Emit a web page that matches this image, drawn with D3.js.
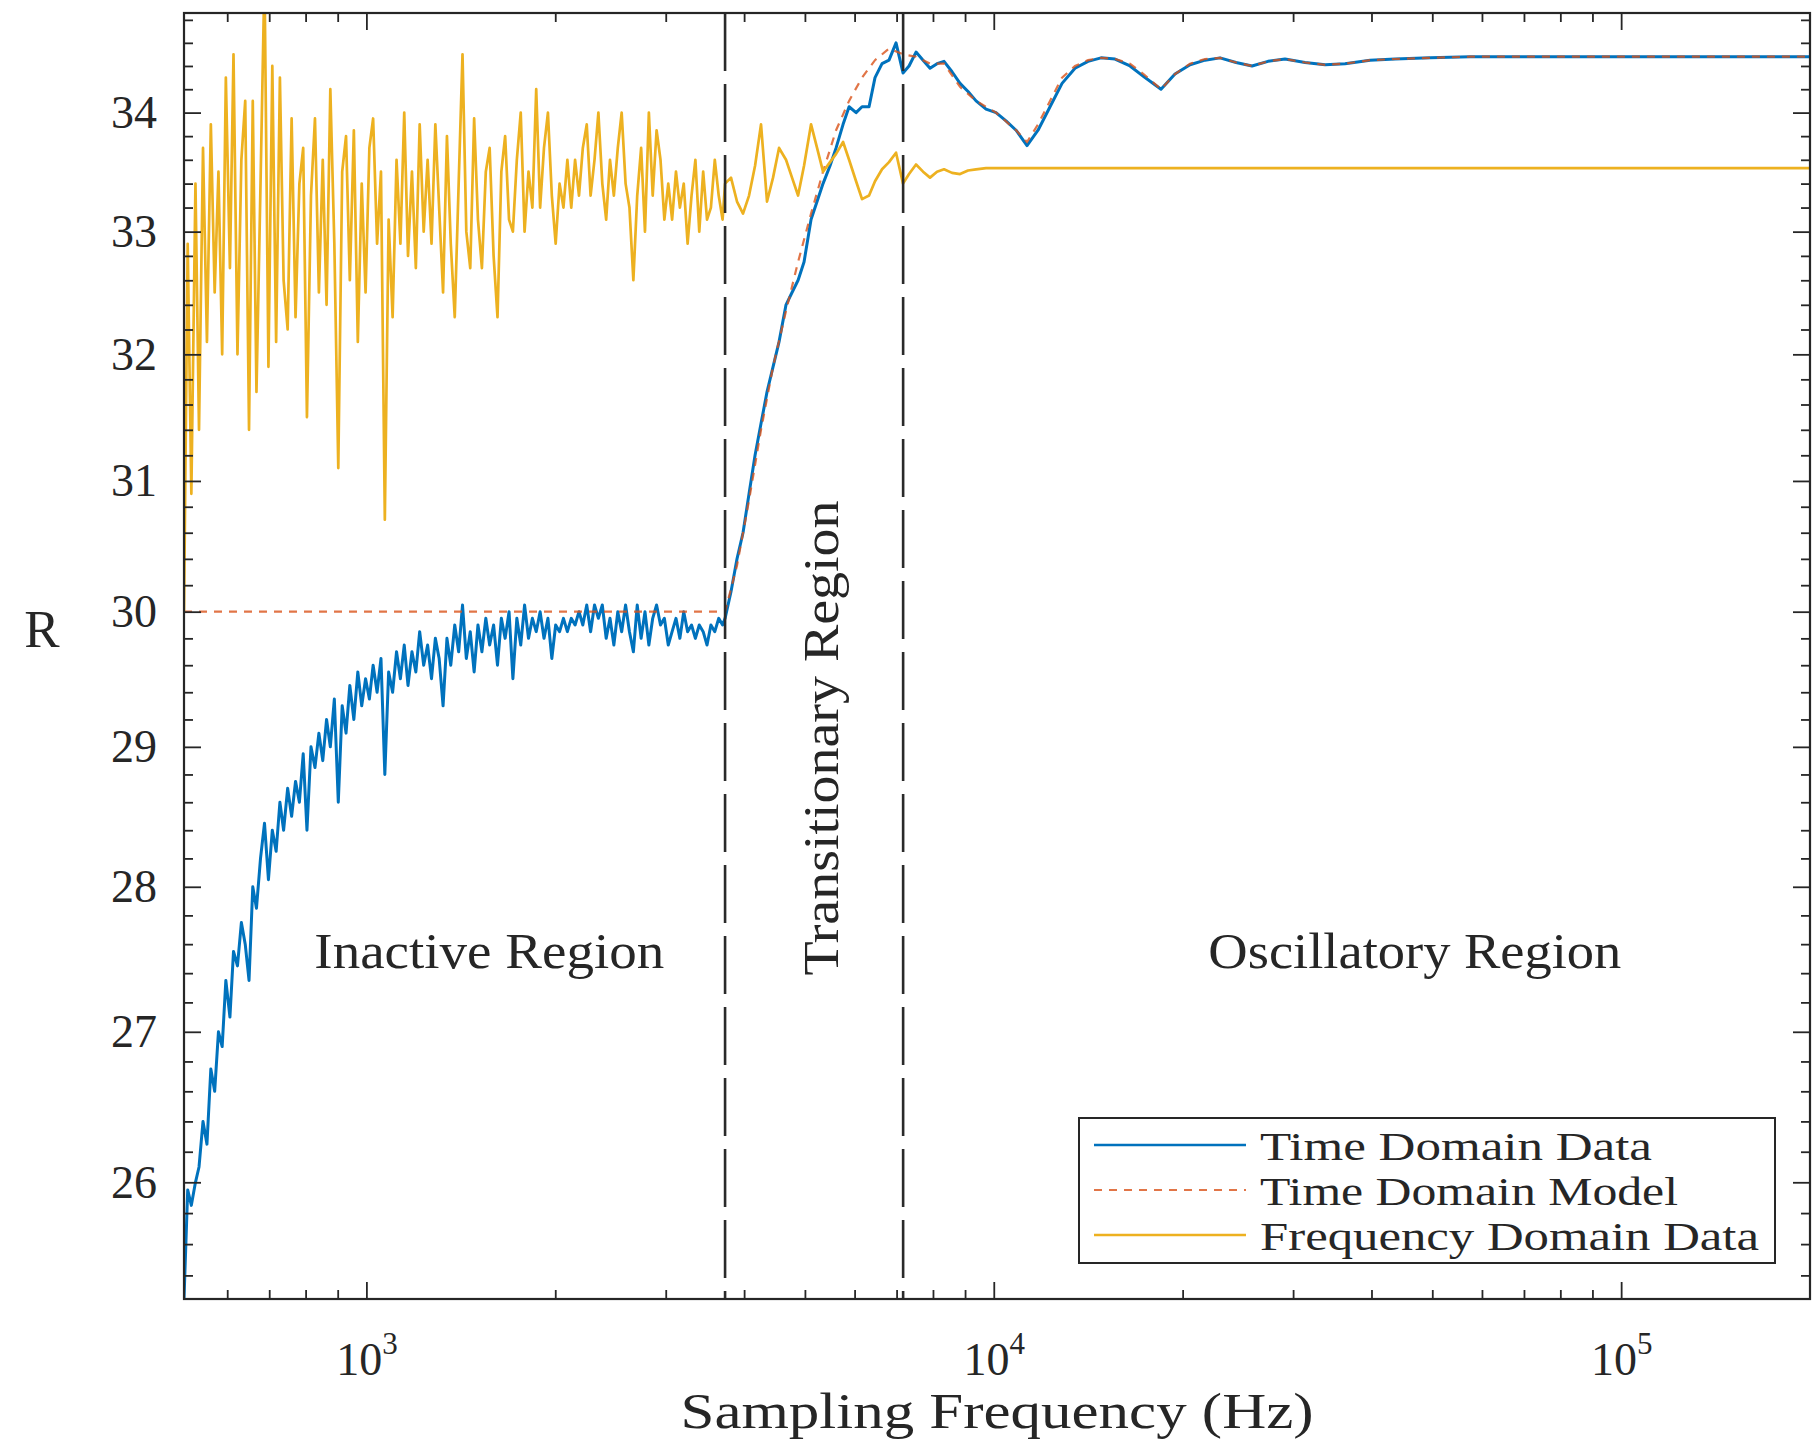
<!DOCTYPE html>
<html>
<head>
<meta charset="utf-8">
<script src="https://cdn.jsdelivr.net/npm/d3@7"></script>
<style>
  html, body { margin: 0; padding: 0; background: #fff; }
  svg text { font-family: "Liberation Serif", "Times New Roman", serif; fill: #262626; }
</style>
</head>
<body>
<svg id="chart" width="1818" height="1447"></svg>
<script>
// Sampling frequencies (Hz) below the first region boundary
const fsLow = [
  512, 519, 526, 534, 541, 549, 557, 565, 573, 581, 589, 597, 606, 614, 623, 632, 641, 650, 659, 668,
  678, 688, 698, 708, 718, 728, 738, 749, 760, 771, 782, 793, 804, 816, 828, 840, 852, 864, 876, 889,
  902, 915, 928, 941, 955, 969, 983, 997, 1011, 1025, 1040, 1055, 1070, 1085, 1101, 1117, 1133, 1149, 1165, 1182,
  1199, 1216, 1234, 1252, 1270, 1288, 1306, 1325, 1344, 1363, 1383, 1403, 1423, 1443, 1464, 1485, 1506, 1528, 1550, 1572,
  1595, 1618, 1641, 1664, 1688, 1712, 1737, 1762, 1787, 1813, 1839, 1865, 1892, 1919, 1947, 1975, 2003, 2032, 2061, 2091,
  2121, 2151, 2182, 2213, 2245, 2277, 2310, 2343, 2377, 2411, 2445, 2480, 2516, 2552, 2589, 2626, 2664, 2702, 2741, 2780,
  2820, 2860, 2901, 2943, 2985, 3028, 3071, 3115, 3160, 3205, 3251, 3298, 3345, 3393, 3442, 3491, 3541, 3592, 3644, 3696,
  3730
];

// Time-domain R over fsLow
const rTimeLow = [
  25.25, 25.95, 25.85, 26.0, 26.1, 26.4, 26.25, 26.75, 26.6, 27.0,
  26.9, 27.35, 27.1, 27.55, 27.45, 27.75, 27.6, 27.35, 28.0, 27.85,
  28.2, 28.45, 28.05, 28.4, 28.25, 28.6, 28.4, 28.7, 28.5, 28.75,
  28.6, 28.95, 28.4, 29.0, 28.85, 29.1, 28.9, 29.2, 29.0, 29.35,
  28.6, 29.3, 29.1, 29.45, 29.2, 29.55, 29.3, 29.5, 29.35, 29.6,
  29.4, 29.65, 28.8, 29.55, 29.4, 29.7, 29.5, 29.75, 29.45, 29.7,
  29.55, 29.85, 29.6, 29.75, 29.5, 29.8, 29.65, 29.3, 29.8, 29.6,
  29.9, 29.7, 30.05, 29.65, 29.85, 29.55, 29.9, 29.7, 29.95, 29.75,
  29.9, 29.6, 29.95, 29.8, 30.0, 29.5, 29.95, 29.75, 30.05, 29.8,
  29.95, 29.85, 30.0, 29.8, 29.95, 29.65, 29.9, 29.85, 29.95, 29.85,
  29.95, 29.9, 30.0, 29.9, 30.05, 29.85, 30.05, 29.95, 30.05, 29.8,
  29.95, 29.75, 30.0, 29.85, 30.05, 29.85, 29.7, 30.05, 29.8, 30.0,
  29.75, 29.95, 30.05, 29.9, 29.95, 29.75, 29.85, 29.95, 29.8, 30.0,
  29.85, 29.9, 29.8, 29.9, 29.85, 29.75, 29.9, 29.85, 29.95, 29.9,
  29.95
];

// Frequency-domain R over fsLow
const rFreqLow = [
  30.0, 32.9, 30.9, 33.4, 31.4, 33.7, 32.1, 33.9, 32.5, 33.5,
  32.0, 34.3, 32.7, 34.5, 32.0, 33.6, 34.1, 31.4, 34.1, 31.7,
  33.4, 35.2, 31.9, 34.4, 32.1, 34.3, 32.6, 32.2, 33.95, 32.3,
  33.4, 33.7, 31.5, 33.3, 33.95, 32.5, 33.6, 32.4, 34.2, 32.9,
  31.1, 33.5, 33.8, 32.6, 33.85, 32.1, 33.4, 32.5, 33.7, 33.95,
  32.9, 33.5, 30.7, 33.1, 32.3, 33.6, 32.9, 34.0, 32.8, 33.5,
  32.7, 33.9, 33.0, 33.6, 32.9, 33.9, 33.2, 32.5, 33.8, 32.9,
  32.3, 33.4, 34.5, 33.0, 32.7, 33.95, 33.1, 32.7, 33.5, 33.7,
  32.8, 32.3, 33.5, 33.8, 33.1, 33.0, 33.6, 34.0, 33.0, 33.5,
  33.2, 34.2, 33.2, 33.7, 34.0, 33.3, 32.9, 33.4, 33.2, 33.6,
  33.2, 33.6, 33.3, 33.7, 33.9, 33.3, 33.6, 34.0, 33.4, 33.1,
  33.6, 33.3, 33.7, 34.0, 33.4, 33.2, 32.6, 33.3, 33.7, 33.0,
  34.0, 33.3, 33.85, 33.6, 33.1, 33.4, 33.1, 33.5, 33.2, 33.4,
  32.9, 33.3, 33.6, 33.0, 33.5, 33.1, 33.2, 33.6, 33.3, 33.1,
  33.4
];

// Sampling frequencies (Hz) above the first region boundary
const fsHigh = [
  3812, 3897, 3984, 4073, 4164, 4256, 4351, 4448, 4547, 4665,
  4769, 4876, 4984, 5114, 5228, 5344, 5483, 5606, 5752, 5880,
  6033, 6166, 6327, 6467, 6636, 6808, 6986, 7167,
  7327, 7518, 7714, 7914, 8120, 8331, 8580, 8835, 9099, 9370, 9720, 10083,
  10460, 10852, 11298, 11764, 12294, 12848, 13475, 14133, 14824, 15605,
  16487, 17421, 18474, 19448, 20551, 21715, 22944, 24332, 25800, 27360,
  29120, 31340, 33740, 36300, 39790, 43610, 49600, 57430, 69020, 86040,
  111200, 149100, 200000
];

const rTimeHigh = [
  30.15, 30.4, 30.6, 30.9, 31.2, 31.45, 31.7, 31.9, 32.1, 32.4,
  32.5, 32.6, 32.75, 33.1, 33.25, 33.4, 33.55, 33.7, 33.9, 34.05,
  34.0, 34.05, 34.05, 34.3, 34.42, 34.45, 34.6, 34.34,
  34.4, 34.52, 34.45, 34.38, 34.42, 34.44, 34.35, 34.25, 34.18, 34.1, 34.03, 34.0,
  33.93, 33.85, 33.72, 33.85, 34.05, 34.25, 34.38, 34.44, 34.47, 34.46,
  34.4, 34.3, 34.2, 34.33, 34.41, 34.45, 34.47, 34.43, 34.4, 34.44,
  34.46, 34.43, 34.41, 34.42, 34.45, 34.46, 34.47, 34.48, 34.48, 34.48,
  34.48, 34.48, 34.48
];

const rFreqHigh = [
  33.45, 33.25, 33.15, 33.3, 33.55, 33.9, 33.25, 33.45, 33.7, 33.6,
  33.45, 33.3, 33.55, 33.9, 33.7, 33.5, 33.58, 33.65, 33.75, 33.6,
  33.42, 33.27, 33.3, 33.42, 33.52, 33.58, 33.66, 33.4,
  33.48, 33.56, 33.5, 33.45, 33.5, 33.52, 33.49, 33.48, 33.51, 33.52, 33.53, 33.53,
  33.53, 33.53, 33.53, 33.53, 33.53, 33.53, 33.53, 33.53, 33.53, 33.53,
  33.53, 33.53, 33.53, 33.53, 33.53, 33.53, 33.53, 33.53, 33.53, 33.53,
  33.53, 33.53, 33.53, 33.53, 33.53, 33.53, 33.53, 33.53, 33.53, 33.53,
  33.53, 33.53, 33.53
];

// Time-domain model
const modelFs = [
  512, 3730, 3897, 4073, 4256, 4448, 4665, 4876, 5114, 5344, 5606, 5880, 6166, 6467, 6808, 7167,
  7518, 7914, 8331, 8835, 9370, 10083,
  10852, 11298, 11764, 12294, 12848, 13475, 14133, 14824,
  15605, 16487, 17421, 18474, 19448, 20551, 21715, 22944,
  24332, 25800, 27360, 29120, 31340, 33740, 36300, 39790, 43610, 49600,
  57430, 69020, 86040, 111200, 149100, 200000
];
const modelR = [
  30, 30, 30.35, 30.85, 31.4, 31.9, 32.35, 32.75, 33.15, 33.5, 33.85, 34.1, 34.3, 34.45, 34.55, 34.5,
  34.48, 34.42, 34.42, 34.22, 34.1, 34.0,
  33.85, 33.75, 33.9, 34.1, 34.3, 34.4, 34.45, 34.47,
  34.46, 34.42, 34.32, 34.2, 34.33, 34.42, 34.46, 34.47,
  34.43, 34.4, 34.44, 34.46, 34.43, 34.41, 34.42, 34.45, 34.46, 34.47,
  34.48, 34.48, 34.48, 34.48, 34.48, 34.48
];

// Region boundaries (Hz) and labels
const regionBounds = [3730, 7170];
const regionNames = ["Inactive Region", "Transitionary Region", "Oscillatory Region"];
const regionLabelFs = [1570, 5290, 46900];

// Axis ticks
const xTicks = [1e3, 1e4, 1e5];
const xTickExp = ["3", "4", "5"];
const yTicks = [26, 27, 28, 29, 30, 31, 32, 33, 34];

const seriesNames = ["Time Domain Data", "Time Domain Model", "Frequency Domain Data"];
const seriesColors = ["#0072BD", "#D95319", "#EDB120"];

// ---------------------------------------------------------------
const plot = { left: 184, right: 1810, top: 13, bottom: 1299 };
const ink = "#262626";
const svg = d3.select("#chart");

const x = d3.scaleLog().domain([512, 200000]).range([plot.left, plot.right]);
const y = d3.scaleLog().domain([25.25, 34.86]).range([plot.bottom, plot.top]);

svg.append("rect").attr("width", 1818).attr("height", 1447).attr("fill", "#fff");

svg.append("defs").append("clipPath").attr("id", "plotClip")
  .append("rect")
  .attr("x", plot.left).attr("y", plot.top)
  .attr("width", plot.right - plot.left).attr("height", plot.bottom - plot.top);

const fsAll = fsLow.concat(fsHigh);
const timeData = d3.zip(fsAll, rTimeLow.concat(rTimeHigh));
const freqData = d3.zip(fsAll, rFreqLow.concat(rFreqHigh));
const modelData = d3.zip(modelFs, modelR);

const line = d3.line().x(d => x(d[0])).y(d => y(d[1]));
const plotG = svg.append("g").attr("clip-path", "url(#plotClip)");

plotG.append("path").datum(timeData)
  .attr("d", line).attr("fill", "none")
  .attr("stroke", seriesColors[0]).attr("stroke-width", 3)
  .attr("stroke-linejoin", "round");

plotG.append("path").datum(modelData)
  .attr("d", line).attr("fill", "none")
  .attr("stroke", seriesColors[1]).attr("stroke-width", 2.2)
  .attr("stroke-opacity", 0.8)
  .attr("stroke-dasharray", "8,7");

plotG.append("path").datum(freqData)
  .attr("d", line).attr("fill", "none")
  .attr("stroke", seriesColors[2]).attr("stroke-width", 2.7)
  .attr("stroke-linejoin", "round");

// region boundaries
plotG.selectAll("line.bound").data(regionBounds).join("line")
  .attr("class", "bound")
  .attr("x1", d => x(d)).attr("x2", d => x(d))
  .attr("y1", plot.top).attr("y2", plot.bottom)
  .attr("stroke", "#2a2a2a").attr("stroke-width", 2.6)
  .attr("stroke-dasharray", "58,13");

// minor tick values
const xMinor = [];
[2, 3, 4, 5].forEach(k => {
  for (let m = 2; m <= 9; m++) {
    const v = m * Math.pow(10, k);
    if (v > 512 && v < 200000) xMinor.push(v);
  }
});
const yMinor = d3.range(25.4, 34.81, 0.2).filter(v => Math.abs(v - Math.round(v)) > 0.05);

function tidy(sel) {
  sel.select(".domain").remove();
  sel.selectAll(".tick line").attr("stroke", ink).attr("stroke-width", 1.8);
}

const majorLen = 17, minorLen = 9;

// bottom axis
const xb = svg.append("g").attr("transform", `translate(0,${plot.bottom})`)
  .call(d3.axisBottom(x).tickValues(xTicks).tickSize(-majorLen).tickFormat(() => ""));
tidy(xb);
xb.selectAll(".tick text").each(function (d, i) {
  const t = d3.select(this);
  t.attr("y", 76).attr("dy", null).attr("font-size", 46).attr("text-anchor", "middle").attr("fill", ink);
  t.append("tspan").text("10");
  t.append("tspan").attr("font-size", 31).attr("dy", -21).text(xTickExp[i]);
});
svg.append("g").attr("transform", `translate(0,${plot.bottom})`)
  .call(d3.axisBottom(x).tickValues(xMinor).tickSize(-minorLen).tickFormat(() => ""))
  .call(tidy);

// top axis (mirrored ticks)
svg.append("g").attr("transform", `translate(0,${plot.top})`)
  .call(d3.axisTop(x).tickValues(xTicks).tickSize(-majorLen).tickFormat(() => ""))
  .call(tidy);
svg.append("g").attr("transform", `translate(0,${plot.top})`)
  .call(d3.axisTop(x).tickValues(xMinor).tickSize(-minorLen).tickFormat(() => ""))
  .call(tidy);

// left axis
const yl = svg.append("g").attr("transform", `translate(${plot.left},0)`)
  .call(d3.axisLeft(y).tickValues(yTicks).tickSize(-majorLen).tickPadding(27).tickFormat(d3.format("d")));
tidy(yl);
yl.selectAll(".tick text").attr("font-size", 46).attr("font-family", null).attr("fill", ink);
svg.append("g").attr("transform", `translate(${plot.left},0)`)
  .call(d3.axisLeft(y).tickValues(yMinor).tickSize(-minorLen).tickFormat(() => ""))
  .call(tidy);

// right axis (mirrored ticks)
svg.append("g").attr("transform", `translate(${plot.right},0)`)
  .call(d3.axisRight(y).tickValues(yTicks).tickSize(-majorLen).tickFormat(() => ""))
  .call(tidy);
svg.append("g").attr("transform", `translate(${plot.right},0)`)
  .call(d3.axisRight(y).tickValues(yMinor).tickSize(-minorLen).tickFormat(() => ""))
  .call(tidy);

// frame
svg.append("rect")
  .attr("x", plot.left).attr("y", plot.top)
  .attr("width", plot.right - plot.left).attr("height", plot.bottom - plot.top)
  .attr("fill", "none").attr("stroke", ink).attr("stroke-width", 2.2);

// axis titles
svg.append("text")
  .attr("x", (plot.left + plot.right) / 2).attr("y", 1428)
  .attr("text-anchor", "middle").attr("font-size", 51)
  .attr("textLength", 633).attr("lengthAdjust", "spacingAndGlyphs")
  .text("Sampling Frequency (Hz)");

svg.append("text")
  .attr("x", 42).attr("y", 647)
  .attr("text-anchor", "middle").attr("font-size", 53)
  .text("R");

// region labels
const regionLen = [350, 475, 413];
svg.append("text")
  .attr("x", x(regionLabelFs[0])).attr("y", 968)
  .attr("text-anchor", "middle").attr("font-size", 50)
  .attr("textLength", regionLen[0]).attr("lengthAdjust", "spacingAndGlyphs")
  .text(regionNames[0]);
svg.append("text")
  .attr("transform", `translate(${x(regionLabelFs[1]) + 18},738) rotate(-90)`)
  .attr("text-anchor", "middle").attr("font-size", 50)
  .attr("textLength", regionLen[1]).attr("lengthAdjust", "spacingAndGlyphs")
  .text(regionNames[1]);
svg.append("text")
  .attr("x", x(regionLabelFs[2])).attr("y", 968)
  .attr("text-anchor", "middle").attr("font-size", 50)
  .attr("textLength", regionLen[2]).attr("lengthAdjust", "spacingAndGlyphs")
  .text(regionNames[2]);

// legend
const leg = svg.append("g");
leg.append("rect")
  .attr("x", 1079).attr("y", 1118).attr("width", 696).attr("height", 145)
  .attr("fill", "#fff").attr("stroke", ink).attr("stroke-width", 2);
const rowY = [1145, 1190, 1235];
const legLen = [392, 418, 499];
const dashes = [null, "8,7", null];
seriesNames.forEach((name, i) => {
  leg.append("line")
    .attr("x1", 1094).attr("x2", 1246).attr("y1", rowY[i]).attr("y2", rowY[i])
    .attr("stroke", seriesColors[i]).attr("stroke-width", i === 1 ? 2.2 : 2.5)
    .attr("stroke-opacity", i === 1 ? 0.8 : 1)
    .attr("stroke-dasharray", dashes[i]);
  leg.append("text")
    .attr("x", 1260).attr("y", rowY[i] + 15)
    .attr("font-size", 40)
    .attr("textLength", legLen[i]).attr("lengthAdjust", "spacingAndGlyphs")
    .text(name);
});
</script>
</body>
</html>
